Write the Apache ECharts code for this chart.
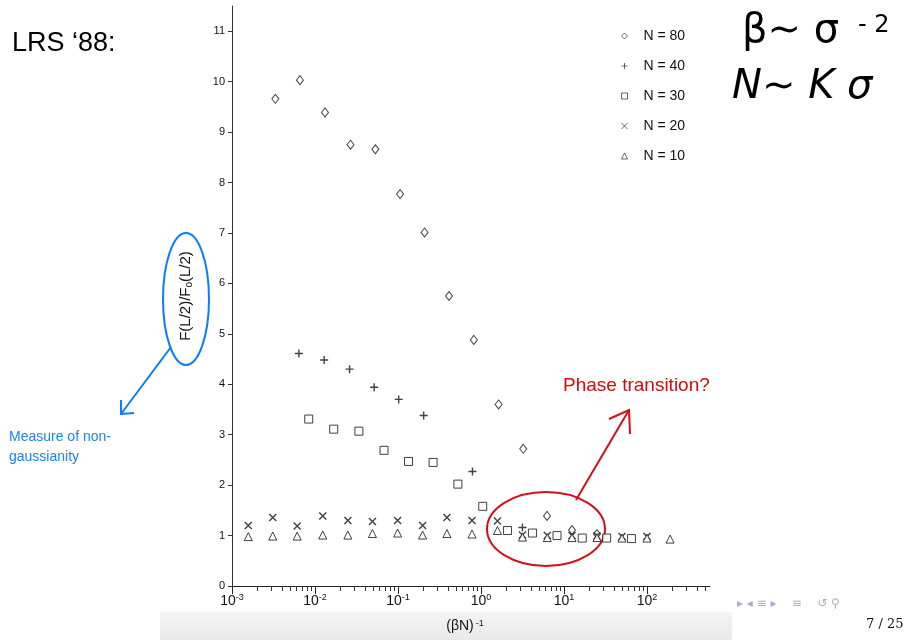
<!DOCTYPE html>
<html><head><meta charset="utf-8">
<script src="https://cdn.jsdelivr.net/npm/echarts@6/dist/echarts.min.js"></script>
<style>html,body{margin:0;padding:0;background:#fff}#c{width:904px;height:640px}</style>
</head><body><div id="c"></div>
<script>
// ---- data ----
const seriesNames = ['N = 80', 'N = 40', 'N = 30', 'N = 20', 'N = 10'];
const xN80 = [0.00333, 0.00658, 0.0132, 0.0268, 0.0534, 0.106, 0.209, 0.412, 0.82, 1.63, 3.23, 6.25, 12.5, 25];
const yN80 = [9.66, 10.03, 9.39, 8.75, 8.66, 7.77, 7.01, 5.75, 4.88, 3.60, 2.72, 1.39, 1.11, 1.03];
const xN40 = [0.0064, 0.0129, 0.0261, 0.0516, 0.102, 0.204, 0.79, 3.16];
const yN40 = [4.61, 4.48, 4.30, 3.94, 3.70, 3.38, 2.27, 1.16];
const xN30 = [0.0084, 0.0168, 0.0338, 0.0679, 0.134, 0.265, 0.527, 1.05, 2.09, 4.17, 8.25, 16.6, 32.7, 65];
const yN30 = [3.31, 3.11, 3.07, 2.69, 2.47, 2.45, 2.02, 1.58, 1.10, 1.05, 1.00, 0.95, 0.95, 0.94];
const xN20 = [0.00157, 0.0031, 0.0061, 0.0124, 0.0249, 0.0492, 0.099, 0.198, 0.389, 0.78, 1.58, 3.16, 6.3, 12.5, 25, 50, 100];
const yN20 = [1.20, 1.36, 1.19, 1.39, 1.30, 1.28, 1.30, 1.20, 1.36, 1.30, 1.29, 1.01, 1.00, 1.00, 0.99, 0.98, 0.98];
const xN10 = [0.00157, 0.0031, 0.0061, 0.0124, 0.0249, 0.0492, 0.099, 0.198, 0.389, 0.78, 1.58, 3.16, 6.3, 12.5, 25, 50, 100, 190];
const yN10 = [0.98, 0.99, 0.99, 1.01, 1.01, 1.04, 1.05, 1.01, 1.04, 1.03, 1.10, 0.97, 0.96, 0.96, 0.96, 0.95, 0.95, 0.93];
const xMajorTicks = [0.001, 0.01, 0.1, 1, 10, 100];
const xMinorTicks = [];
xMajorTicks.forEach(d => { for (let m = 2; m <= 9; m++) { const v = m * d; if (v < 575) xMinorTicks.push(+v.toPrecision(3)); } });
const yTicks = [0,1,2,3,4,5,6,7,8,9,10,11];

const zip = (xs, ys) => xs.map((x, i) => [x, ys[i]]);
const FONT = 'Liberation Sans, Arial, Helvetica, sans-serif';
const PLUS = 'path://M0,5L10,5M5,0L5,10';
const CROSS = 'path://M0,0L10,10M10,0L0,10';

const chart = echarts.init(document.getElementById('c'));
const black = '#111';
function sc(name, xs, ys, symbol, size, stroked) {
  return {
    type: 'scatter', name, data: zip(xs, ys), symbol, symbolSize: size,
    itemStyle: stroked ? { color: 'none', borderColor: black, borderWidth: 1.4 } : { color: '#fff', borderColor: black, borderWidth: 1 },
    emphasis: { disabled: true }
  };
}
chart.setOption({
  animation: false,
  backgroundColor: '#fff',
  textStyle: { fontFamily: FONT },
  grid: { left: 232, right: 194, top: 6, bottom: 54 },
  legend: {
    orient: 'vertical', left: 614, top: 24, itemGap: 16,
    itemWidth: 6, itemHeight: 6,
    itemStyle: { borderWidth: 0.8 },
    textStyle: { fontSize: 14, color: '#111', fontFamily: FONT, padding: [0, 0, 0, 11] },
    data: seriesNames
  },
  xAxis: [{
    type: 'log', logBase: 10, min: 0.001, max: 575, position: 'bottom',
    name: '{a|(βN)}{e|-1}', nameLocation: 'middle', nameGap: 33,
    nameTextStyle: { padding: [0, 12, 0, 0], rich: { a: { fontSize: 14, color: '#111', fontFamily: FONT }, e: { fontSize: 9, color: '#111', verticalAlign: 'top', padding: [0, 0, 6, 2] } } },
    axisLine: { lineStyle: { color: '#222', width: 1 } },
    axisTick: { length: 8, lineStyle: { color: '#222' }, customValues: xMajorTicks },
    axisLabel: {
      margin: 7, customValues: xMajorTicks,
      formatter: v => '{b|10}{e|' + Math.round(Math.log10(v)) + '}',
      rich: { b: { fontSize: 14, color: '#111', fontFamily: FONT }, e: { fontSize: 9, color: '#111', verticalAlign: 'top', padding: [0, 0, 7, 0] } }
    },
    splitLine: { show: false }
  }, {
    type: 'log', logBase: 10, min: 0.001, max: 575, position: 'bottom', offset: 0,
    axisLine: { show: false },
    axisTick: { length: 5, lineStyle: { color: '#333' }, customValues: xMinorTicks },
    axisLabel: { show: false }, splitLine: { show: false }
  }],
  yAxis: {
    type: 'value', min: 0, max: 11.5, interval: 1,
    name: '{a|F(L/2)/F}{s|o}{a|(L/2)}', nameLocation: 'middle', nameGap: 38, nameRotate: 90,
    nameTextStyle: { rich: { a: { fontSize: 15, color: '#111', fontFamily: FONT }, s: { fontSize: 10, color: '#111', verticalAlign: 'bottom', padding: [7, 0, 0, 0] } } },
    axisLine: { show: true, lineStyle: { color: '#333', width: 1 } },
    axisTick: { show: true, length: 4, customValues: yTicks, lineStyle: { color: '#333' } },
    axisLabel: { fontSize: 11, color: '#111', margin: 7, customValues: yTicks, fontFamily: FONT },
    splitLine: { show: false }
  },
  series: [
    sc('N = 80', xN80, yN80, 'diamond', [7, 9], false),
    sc('N = 40', xN40, yN40, PLUS, 8, true),
    sc('N = 30', xN30, yN30, 'rect', 8, false),
    sc('N = 20', xN20, yN20, CROSS, 7, true),
    sc('N = 10', xN10, yN10, 'triangle', 8, false)
  ],
  graphic: [
    { type: 'rect', z: -10, shape: { x: 160, y: 612, width: 572, height: 28 },
      style: { fill: new echarts.graphic.LinearGradient(0, 0, 0, 1, [{ offset: 0, color: '#f4f4f4' }, { offset: 1, color: '#e9e9e9' }]) } },
    { type: 'text', left: 12, top: 30, style: { text: 'LRS ‘88:', fontSize: 27, fill: '#000', fontFamily: FONT } },
    { type: 'text', left: 742, top: 12, style: { text: 'β∼ σ', fontSize: 40, fill: '#000', fontFamily: 'DejaVu Sans' } },
    { type: 'text', left: 858, top: 14, style: { text: '- 2', fontSize: 24, fill: '#000', fontFamily: 'DejaVu Sans' } },
    { type: 'text', left: 732, top: 68, style: { text: 'N∼ K σ', fontSize: 40, fill: '#000', fontFamily: 'DejaVu Sans', fontStyle: 'italic' } },
    { type: 'ellipse', shape: { cx: 186, cy: 299, rx: 23, ry: 66 }, style: { fill: 'none', stroke: '#0a7cff', lineWidth: 2 } },
    { type: 'polyline', shape: { points: [[171, 347], [121, 414]] }, style: { stroke: '#0a7cff', lineWidth: 2 } },
    { type: 'polyline', shape: { points: [[121, 400], [121, 414], [134, 413]] }, style: { stroke: '#0a7cff', lineWidth: 2, fill: 'none' } },
    { type: 'text', left: 9, top: 427, style: { text: 'Measure of non-\ngaussianity', fontSize: 14, lineHeight: 20, fill: '#1a82f7', fontFamily: FONT } },
    { type: 'ellipse', shape: { cx: 546, cy: 529, rx: 59, ry: 37 }, style: { fill: 'none', stroke: '#d0101b', lineWidth: 2 } },
    { type: 'polyline', shape: { points: [[576, 500], [629, 410]] }, style: { stroke: '#d0101b', lineWidth: 2 } },
    { type: 'polyline', shape: { points: [[609, 419], [629, 410], [630, 434]] }, style: { stroke: '#d0101b', lineWidth: 2, fill: 'none' } },
    { type: 'text', left: 563, top: 376, style: { text: 'Phase transition?', fontSize: 19, fill: '#d40a0a', fontFamily: FONT } },
    { type: 'text', left: 737, top: 598, style: { text: '▸ ◂ ≡ ▸    ≡    ↺ ⚲', fontSize: 12, fill: '#a8acd0', fontFamily: 'DejaVu Sans' } },
    { type: 'text', left: 866, top: 618, style: { text: '7 / 25', fontSize: 13, fill: '#111', fontFamily: 'DejaVu Serif' } }
  ]
});
</script></body></html>
